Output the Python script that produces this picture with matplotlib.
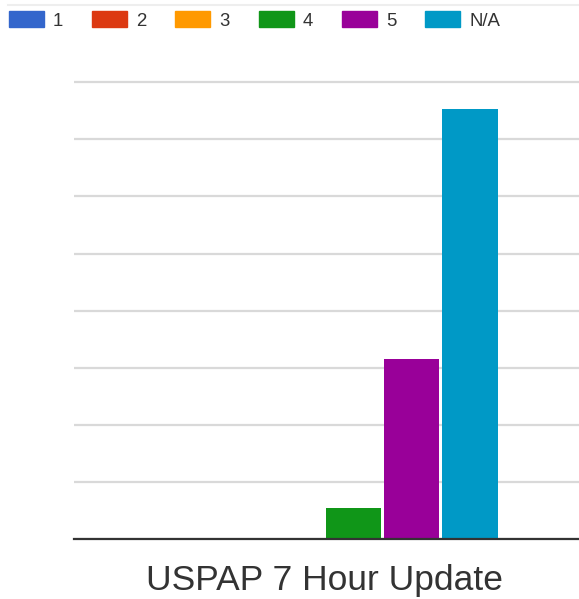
import matplotlib.pyplot as plt
from matplotlib.patches import Rectangle
from matplotlib.lines import Line2D

plt.rcParams['font.family'] = ['Liberation Sans', 'DejaVu Sans']

category = 'USPAP 7 Hour Update'
series = ['1', '2', '3', '4', '5', 'N/A']
values = [0, 0, 0, 0.55, 3.15, 7.52]
colors = ['#3366cc', '#dc3912', '#ff9900', '#109618', '#990099', '#0099c6']

W, H = 579, 599
base = 539.3
unit = 57.16
ytop = 8.05
fig = plt.figure(figsize=(W / 100, H / 100), dpi=100)
ax = fig.add_axes([74 / W, (H - base) / H, (W - 74) / W, unit * ytop / H])

pitch = 0.1625
for i, (name, v, c) in enumerate(zip(series, values, colors)):
    ax.bar((i - 2.5) * pitch, v, width=0.154, color=c, linewidth=0, zorder=3)

ax.set_xlim(-0.705 + 0.0056, 0.705 + 0.0056)
ax.set_ylim(0, ytop)
ax.set_yticks(range(0, 9))
ax.yaxis.grid(True, color='#d9d9d9', linewidth=1.6, zorder=0)
ax.tick_params(axis='y', length=0, labelleft=False)
ax.set_xticks([0])
ax.set_xticklabels([category], fontsize=25.5, color='#333333')
ax.tick_params(axis='x', length=0, pad=17.5)
for s in ['top', 'right', 'left']:
    ax.spines[s].set_visible(False)
ax.spines['bottom'].set_color('#333333')
ax.spines['bottom'].set_linewidth(1.6)
ax.spines['bottom'].set_zorder(4)

handles = [Rectangle((0, 0), 1, 1, color=c) for c in colors]
fig.legend(handles, series, loc='upper left', bbox_to_anchor=(9 / W, 1 - 11 / H),
           ncol=6, frameon=False, fontsize=13.4, labelcolor='#333333',
           handlelength=1.88, handleheight=0.97, handletextpad=0.48,
           columnspacing=1.56, borderpad=0, borderaxespad=0)

fig.add_artist(Line2D([8 / W, 1], [1 - 5 / H, 1 - 5 / H], color='#eeeeee', linewidth=1.5))

fig.savefig('out.png', dpi=100)
